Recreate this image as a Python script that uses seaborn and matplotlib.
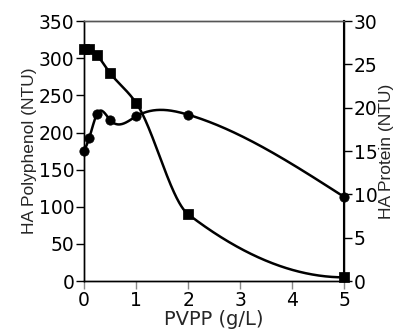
import numpy as np
import pandas as pd
import matplotlib
matplotlib.use("Agg")
import matplotlib.pyplot as plt
import seaborn as sns

pvpp = [0, 0.1, 0.25, 0.5, 1, 2, 5]
polyphenol = [313, 313, 304, 280, 240, 90, 5]
protein = [15.0, 16.5, 19.3, 18.6, 19.0, 19.2, 9.7]


def natural_spline(x, y, n=400):
    # natural cubic spline, only for drawing the smooth line through the points
    x = np.asarray(x, float)
    y = np.asarray(y, float)
    k = len(x)
    h = np.diff(x)
    A = np.zeros((k, k))
    b = np.zeros(k)
    A[0, 0] = A[-1, -1] = 1
    for i in range(1, k - 1):
        A[i, i - 1] = h[i - 1]
        A[i, i] = 2 * (h[i - 1] + h[i])
        A[i, i + 1] = h[i]
        b[i] = 6 * ((y[i + 1] - y[i]) / h[i] - (y[i] - y[i - 1]) / h[i - 1])
    m = np.linalg.solve(A, b)
    xs = np.linspace(x[0], x[-1], n)
    idx = np.clip(np.searchsorted(x, xs) - 1, 0, k - 2)
    x0, x1 = x[idx], x[idx + 1]
    hh = x1 - x0
    t0 = x1 - xs
    t1 = xs - x0
    ys = (m[idx] * t0 ** 3 + m[idx + 1] * t1 ** 3) / (6 * hh) \
        + (y[idx] / hh - m[idx] * hh / 6) * t0 \
        + (y[idx + 1] / hh - m[idx + 1] * hh / 6) * t1
    return xs, ys


def pchip(x, y, n=400):
    # monotone cubic (Fritsch-Carlson), no overshoot
    x = np.asarray(x, float)
    y = np.asarray(y, float)
    h = np.diff(x)
    d = np.diff(y) / h
    k = len(x)
    m = np.zeros(k)
    for i in range(1, k - 1):
        if d[i - 1] * d[i] > 0:
            w1 = 2 * h[i] + h[i - 1]
            w2 = h[i] + 2 * h[i - 1]
            m[i] = (w1 + w2) / (w1 / d[i - 1] + w2 / d[i])
    m[0] = d[0]
    m[-1] = ((2 * h[-1] + h[-2]) * d[-1] - h[-1] * d[-2]) / (h[-1] + h[-2])
    if m[-1] * d[-1] <= 0:
        m[-1] = 0
    xs = np.linspace(x[0], x[-1], n)
    idx = np.clip(np.searchsorted(x, xs) - 1, 0, k - 2)
    t = (xs - x[idx]) / h[idx]
    h00 = 2 * t ** 3 - 3 * t ** 2 + 1
    h10 = t ** 3 - 2 * t ** 2 + t
    h01 = -2 * t ** 3 + 3 * t ** 2
    h11 = t ** 3 - t ** 2
    ys = h00 * y[idx] + h10 * h[idx] * m[idx] + h01 * y[idx + 1] + h11 * h[idx] * m[idx + 1]
    return xs, ys


sns.set_style("ticks")
plt.rcParams['font.family'] = ['DejaVu Sans']

fig = plt.figure(figsize=(4.01, 3.35), dpi=100)
ax = fig.add_axes([0.2095, 0.161, 0.649, 0.776])
ax2 = ax.twinx()

df = pd.DataFrame({'pvpp': pvpp, 'poly': polyphenol, 'prot': protein})

xs, ys = pchip(pvpp, polyphenol)
sns.lineplot(x=xs, y=ys, ax=ax, color='black', lw=1.8)
sns.scatterplot(data=df, x='pvpp', y='poly', ax=ax, marker='s', s=45,
                color='black', edgecolor='black', zorder=5, clip_on=False)

xs2, ys2 = natural_spline(pvpp, protein)
sns.lineplot(x=xs2, y=ys2, ax=ax2, color='black', lw=1.8)
sns.scatterplot(data=df, x='pvpp', y='prot', ax=ax2, marker='o', s=45,
                color='black', edgecolor='black', zorder=5, clip_on=False)

ax.set_xlim(0, 5)
ax.set_ylim(0, 350)
ax2.set_ylim(0, 30)
ax.set_xticks(range(6))
ax.set_yticks(range(0, 351, 50))
ax2.set_yticks(range(0, 31, 5))

ax.set_xlabel('PVPP (g/L)', fontsize=14, labelpad=0)
vfont = dict(family='Liberation Sans', fontsize=12.5)
ax.set_ylabel('HA Polyphenol (NTU)', labelpad=1, **vfont)
ax2.set_ylabel('HA Protein (NTU)', labelpad=1, **vfont)

for a in (ax, ax2):
    a.tick_params(length=6, width=1, pad=1, labelsize=13.5, colors='black')
    for s in a.spines.values():
        s.set_color('black')
        s.set_linewidth(1)
ax.spines['top'].set_color('#555555')
ax2.spines['top'].set_color('#555555')
ax.tick_params(axis='x', color='#888888')
ax2.spines['right'].set_linewidth(1.5)

fig.savefig('out.png', dpi=100)
